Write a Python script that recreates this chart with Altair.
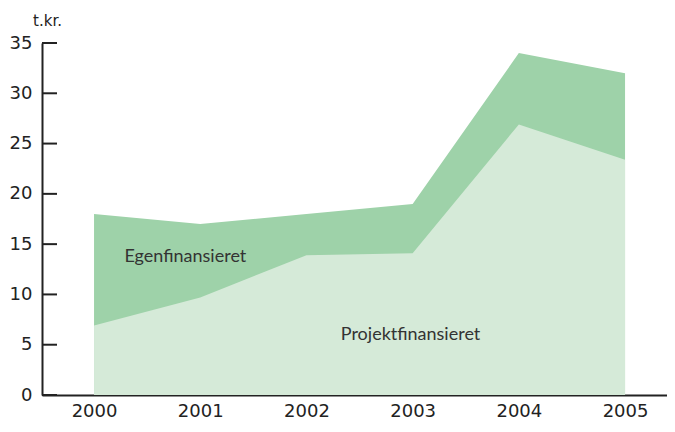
import altair as alt
import pandas as pd

years = [2000, 2001, 2002, 2003, 2004, 2005]
projekt = [6.9, 9.7, 13.9, 14.1, 26.9, 23.4]
egen = [11.1, 7.3, 4.1, 4.9, 7.1, 8.6]
tick_values = [0, 5, 10, 15, 20, 25, 30, 35]
labels = ["Egenfinansieret", "Projektfinansieret"]
label_x = [2000.86, 2002.98]
label_y = [13.7, 5.95]

DARK = "#9ed2a9"
LIGHT = "#d5ead8"
INK = "#222222"
FONT = "Lato"
NUMFONT = "DejaVu Sans"

df = pd.DataFrame({"year": years, "projekt": projekt, "egen": egen})
lab_df = pd.DataFrame({"year": label_x, "value": label_y, "label": labels})
tick_df = pd.DataFrame({"value": tick_values})

xscale = alt.Scale(domain=[1999.51, 2005.395], nice=False, zero=False)
yscale = alt.Scale(domain=[0, 35], nice=False)

xaxis = alt.Axis(values=years, format="d", ticks=False, tickSize=0,
                 labelFontSize=18, labelColor=INK, labelFont=NUMFONT,
                 labelPadding=7, domainColor=INK, domainWidth=2,
                 grid=False, title=None, labelFlush=False, labelOverlap=False)
yaxis = alt.Axis(values=tick_values, ticks=False, tickSize=0,
                 labelFontSize=18, labelColor=INK, labelFont=NUMFONT,
                 labelPadding=10, domainColor=INK, domainWidth=2,
                 grid=False, labelFlush=False, labelOverlap=False,
                 title="t.kr.", titleAngle=0, titleX=5, titleY=-18,
                 titleAlign="center", titleBaseline="alphabetic",
                 titleFontSize=15, titleFontWeight="normal",
                 titleFont=NUMFONT, titleColor=INK)

X = alt.X("year:Q", scale=xscale, axis=xaxis)
Y = alt.Y("value:Q", scale=yscale, axis=yaxis)

dark = alt.Chart(df).transform_calculate(
    value="datum.projekt + datum.egen"
).mark_area(color=DARK, opacity=1).encode(x=X, y=Y)

light = alt.Chart(df).transform_calculate(
    value="datum.projekt"
).mark_area(color=LIGHT, opacity=1).encode(x=X, y=Y)

texts = alt.Chart(lab_df).mark_text(
    font=FONT, fontSize=18, color="#333333", align="center", baseline="middle"
).encode(x=X, y=Y, text="label:N")

ticks = alt.Chart(tick_df).mark_rule(color=INK, strokeWidth=2).encode(
    y=Y, x=alt.value(0), x2=alt.value(15)
)

chart = alt.layer(dark, light, texts, ticks).properties(
    width=625, height=352,
    autosize=alt.AutoSizeParams(type="none"),
    padding={"left": 34, "top": 35, "right": 0, "bottom": 29},
).configure_view(stroke=None)

chart.save("out.html", embed_options={"renderer": "svg", "actions": False})
